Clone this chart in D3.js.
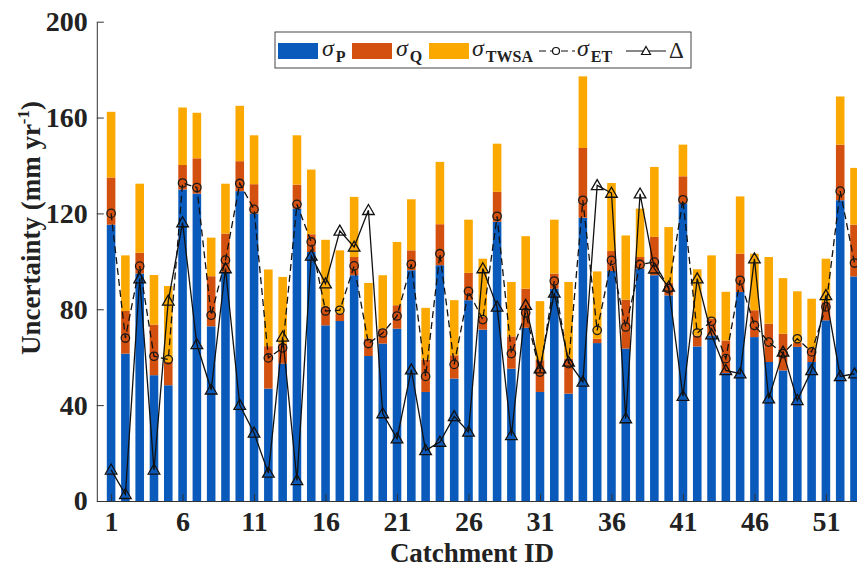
<!DOCTYPE html>
<html>
<head>
<meta charset="utf-8">
<script src="https://cdn.jsdelivr.net/npm/d3@7"></script>
<style>
  body { margin: 0; background: #fff; }
  svg { display: block; }
  text { font-family: "Liberation Serif", "Times New Roman", serif; }
</style>
</head>
<body>
<svg id="chart" width="857" height="573"></svg>
<script>
// Uncertainty components per catchment (mm/yr)
const catchments = d3.range(1, 54);

const sigmaP = [
  115.3, 61.5, 94.9, 52.5, 48.3, 130.0, 128.3, 72.9, 95.2, 129.3,
  119.9, 46.9, 57.3, 122.0, 103.9, 73.3, 75.1, 94.2, 60.5, 65.7,
  71.9, 96.3, 45.5, 98.4, 51.1, 83.8, 71.5, 116.5, 55.2, 72.3,
  45.5, 88.6, 44.8, 118.2, 65.9, 96.0, 63.6, 96.9, 94.2, 85.8,
  124.1, 64.5, 69.1, 53.4, 87.2, 68.4, 58.0, 54.5, 64.3, 58.0,
  75.4, 125.5, 93.7
];

const sigmaQ = [
  19.7, 17.8, 8.7, 21.1, 9.7, 10.2, 14.7, 20.9, 16.4, 12.5,
  12.3, 17.7, 8.4, 10.0, 7.4, 7.7, 3.1, 7.6, 7.3, 6.2,
  9.8, 8.3, 13.5, 17.1, 9.7, 11.4, 5.3, 12.5, 13.5, 16.3,
  13.2, 6.3, 14.6, 29.1, 1.8, 8.3, 20.4, 4.9, 16.0, 5.2,
  11.4, 4.6, 7.0, 13.6, 16.0, 11.2, 16.0, 15.3, 1.7, 5.6,
  7.6, 23.2, 21.6
];

const sigmaTWSA = [
  27.4, 23.2, 28.8, 20.7, 31.7, 24.0, 19.0, 16.1, 20.8, 23.1,
  20.4, 32.0, 27.8, 20.6, 27.0, 28.0, 26.4, 25.1, 23.2, 22.3,
  26.4, 21.3, 21.6, 26.0, 23.0, 22.2, 24.3, 20.1, 22.7, 21.9,
  24.7, 22.5, 32.0, 29.9, 28.1, 28.4, 26.8, 20.2, 29.2, 23.3,
  13.2, 27.6, 26.4, 20.3, 23.9, 23.6, 27.8, 23.2, 21.5, 20.8,
  18.1, 20.1, 23.7
];

const sigmaET = [
  120.0, 68.0, 98.0, 60.4, 59.0, 132.7, 130.8, 77.5, 100.5, 132.5,
  121.7, 59.7, 63.9, 123.8, 108.1, 79.3, 79.6, 98.1, 65.7, 70.1,
  77.2, 98.8, 52.0, 103.2, 57.0, 87.5, 75.7, 118.8, 61.5, 78.5,
  53.8, 91.8, 57.3, 125.5, 71.2, 100.4, 72.6, 98.7, 99.7, 88.6,
  125.7, 70.1, 75.0, 59.4, 92.1, 73.3, 66.3, 61.5, 67.7, 62.2,
  81.0, 129.3, 99.3
];

const delta = [
  13.0, 2.8, 92.8, 13.0, 83.5, 116.2, 65.3, 46.4, 97.0, 40.0,
  28.4, 11.7, 68.5, 8.6, 102.3, 90.7, 112.7, 106.0, 121.3, 36.5,
  26.0, 54.8, 21.1, 24.6, 35.3, 28.8, 97.0, 81.0, 27.4, 81.7,
  55.2, 86.8, 58.0, 49.7, 131.7, 128.5, 34.4, 128.2, 96.9, 89.3,
  43.7, 92.8, 69.4, 54.5, 53.1, 101.1, 42.7, 62.2, 42.0, 54.5,
  85.8, 52.0, 53.1
];

const xTickValues = [1, 6, 11, 16, 21, 26, 31, 36, 41, 46, 51];
const yTickValues = [0, 40, 80, 120, 160, 200];

const seriesKeys = ["P", "Q", "TWSA"];
const seriesColors = { P: "#0a5abb", Q: "#d4500f", TWSA: "#fba800" };

// ---- scales ----
const svg = d3.select("#chart");
const x = d3.scaleLinear().domain([0, 54]).range([96.8, 868.8]);
const y = d3.scaleLinear().domain([0, 200]).range([501, 21.7]);
const barW = (x(1) - x(0)) * 0.6;

// ---- stacked bars ----
const rows = catchments.map((c, i) => ({
  id: c, P: sigmaP[i], Q: sigmaQ[i], TWSA: sigmaTWSA[i]
}));
const stacked = d3.stack().keys(seriesKeys)(rows);

svg.append("g").selectAll("g")
  .data(stacked)
  .join("g")
  .attr("fill", d => seriesColors[d.key])
  .selectAll("rect")
  .data(d => d)
  .join("rect")
  .attr("x", d => x(d.data.id) - barW / 2)
  .attr("width", barW)
  .attr("y", d => y(d[1]))
  .attr("height", d => y(d[0]) - y(d[1]));

// ---- sigma_ET: dashed line with open circles ----
const lineGen = d3.line().x((d, i) => x(catchments[i])).y(d => y(d));
const lw = 1.3;

svg.append("path")
  .datum(sigmaET)
  .attr("d", lineGen)
  .attr("fill", "none")
  .attr("stroke", "#111")
  .attr("stroke-width", lw)
  .attr("stroke-dasharray", "7,4");

svg.append("g").selectAll("circle")
  .data(sigmaET)
  .join("circle")
  .attr("cx", (d, i) => x(catchments[i]))
  .attr("cy", d => y(d))
  .attr("r", 4.2)
  .attr("fill", "none")
  .attr("stroke", "#1a1a1a")
  .attr("stroke-width", lw);

// ---- Delta: solid line with open triangles ----
const tri = "M0,-5.8L5.8,4.2L-5.8,4.2Z";

svg.append("path")
  .datum(delta)
  .attr("d", lineGen)
  .attr("fill", "none")
  .attr("stroke", "#111")
  .attr("stroke-width", lw);

svg.append("g").selectAll("path")
  .data(delta)
  .join("path")
  .attr("d", tri)
  .attr("transform", (d, i) => `translate(${x(catchments[i])},${y(d)})`)
  .attr("fill", "none")
  .attr("stroke", "#111")
  .attr("stroke-width", lw);

// ---- axes ----
const axisFont = g => g.selectAll("text")
  .attr("font-family", "'Liberation Serif', 'Times New Roman', serif")
  .attr("font-weight", "bold")
  .attr("font-size", 28)
  .attr("fill", "#222");

const yAxis = svg.append("g")
  .attr("transform", `translate(${x(0)},0)`)
  .call(d3.axisLeft(y).tickValues(yTickValues).tickSizeInner(-7).tickSizeOuter(0).tickPadding(9))
  .call(axisFont);
yAxis.select(".domain").attr("stroke", "#333");
yAxis.selectAll(".tick line").attr("stroke", "#333");

const xAxis = svg.append("g")
  .attr("transform", `translate(0,${y(0)})`)
  .call(d3.axisBottom(x).tickValues(xTickValues).tickFormat(d3.format("d")).tickSizeInner(-7).tickSizeOuter(0).tickPadding(10))
  .call(axisFont);
xAxis.select(".domain").attr("stroke", "#333");
xAxis.selectAll(".tick line").attr("stroke", "#333");

// axis titles
svg.append("text")
  .attr("x", 472)
  .attr("y", 562)
  .attr("text-anchor", "middle")
  .attr("font-weight", "bold")
  .attr("font-size", 27)
  .attr("fill", "#222")
  .text("Catchment ID");

const yTitle = svg.append("text")
  .attr("transform", "translate(40,228) rotate(-90)")
  .attr("text-anchor", "middle")
  .attr("font-weight", "bold")
  .attr("font-size", 27)
  .attr("fill", "#222");
yTitle.append("tspan").text("Uncertainty (mm yr");
yTitle.append("tspan").attr("font-size", 17).attr("dy", -11).text("-1");
yTitle.append("tspan").attr("dy", 11).text(")");

// ---- legend ----
const legend = svg.append("g");
legend.append("rect")
  .attr("x", 275).attr("y", 32).attr("width", 416).attr("height", 36)
  .attr("fill", "#fff").attr("stroke", "#444").attr("stroke-width", 1);

const legendItems = [
  { key: "P", sx: 278, tx: 322, sub: "P" },
  { key: "Q", sx: 352, tx: 396, sub: "Q" },
  { key: "TWSA", sx: 429, tx: 472, sub: "TWSA" }
];

function sigmaLabel(xPos, sub) {
  const t = legend.append("text").attr("x", xPos).attr("y", 56).attr("fill", "#222");
  t.append("tspan").attr("font-style", "italic").attr("font-size", 24).text("σ");
  t.append("tspan").attr("font-weight", "bold").attr("font-size", 16).attr("dx", 2).attr("dy", 6).text(sub);
}

legendItems.forEach(it => {
  legend.append("rect")
    .attr("x", it.sx).attr("y", 43).attr("width", 40).attr("height", 16)
    .attr("fill", seriesColors[it.key]);
  sigmaLabel(it.tx, it.sub);
});

legend.append("line")
  .attr("x1", 539).attr("x2", 575).attr("y1", 51).attr("y2", 51)
  .attr("stroke", "#111").attr("stroke-width", 1.2).attr("stroke-dasharray", "7,4");
legend.append("circle")
  .attr("cx", 556).attr("cy", 51).attr("r", 3.5)
  .attr("fill", "#fff").attr("stroke", "#111").attr("stroke-width", 1.2);
sigmaLabel(577, "ET");

legend.append("line")
  .attr("x1", 626).attr("x2", 666).attr("y1", 51).attr("y2", 51)
  .attr("stroke", "#111").attr("stroke-width", 1.2);
legend.append("path")
  .attr("d", "M0,-4.5L4.5,3.5L-4.5,3.5Z")
  .attr("transform", "translate(646,51)")
  .attr("fill", "#fff").attr("stroke", "#111").attr("stroke-width", 1.2);
legend.append("text")
  .attr("x", 669).attr("y", 58)
  .attr("font-size", 23).attr("fill", "#222")
  .text("Δ");
</script>
</body>
</html>
